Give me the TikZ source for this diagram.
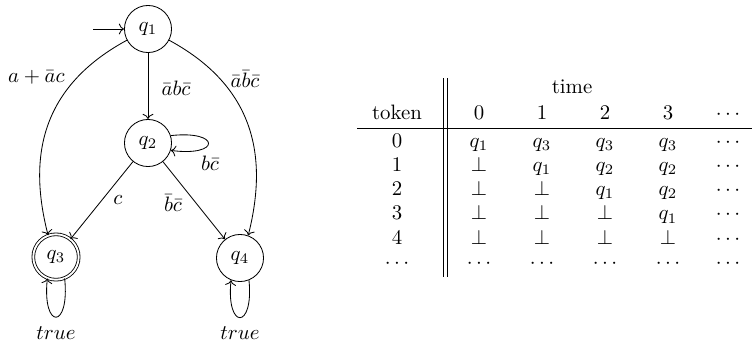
\documentclass[tikz,border=0pt]{standalone}
\usetikzlibrary{arrows.meta}
\begin{document}
\begin{tikzpicture}[x=0.48pt,y=-0.48pt,
  state/.style={circle,draw,minimum size=22.6pt,inner sep=0pt},
  accept/.style={circle,draw,double,double distance=0.9pt,minimum size=21.8pt,inner sep=0pt},
  edge/.style={->},
  lbl/.style={inner sep=0pt},
  cell/.style={anchor=base,inner sep=0pt}]
\useasboundingbox (0,0) rectangle (752,346);
% states
\node[state]  (q1) at (148,29)  {$q_1$};
\node[state]  (q2) at (148,143) {$q_2$};
\node[accept] (q3) at (56,257)  {$q_3$};
\node[state]  (q4) at (240,258) {$q_4$};
\coordinate (init) at (93,29);
% edges
\draw[edge] (init) -- (q1);
\draw[edge] (q1) -- (q2);
\draw[edge] (q1.208) .. controls (35,90) and (30,165) .. (q3.110);
\draw[edge] (q1.332) .. controls (261,90) and (266,165) .. (q4.70);
\draw[edge] (q2) -- (q3);
\draw[edge] (q2) -- (q4);
\draw[edge] (q2.18) .. controls (221,130) and (221,157) .. (q2.-18);
\draw[edge] (q3.-68) .. controls (70,330) and (42,330) .. (q3.-112);
\draw[edge] (q4.-68) .. controls (254,330) and (226,330) .. (q4.-112);
% labels
\node[lbl] (l13) at (36.5,77) {$a+\bar{a}c$};
\node[lbl] (l12) at (176,88) {$\bar{a}b\bar{c}$};
\node[lbl] (l14) at (245,79) {$\bar{a}\bar{b}\bar{c}$};
\node[lbl] (l22) at (210,163) {$b\bar{c}$};
\node[lbl] (l23) at (118,200) {$c$};
\node[lbl] (l24) at (173,203) {$\bar{b}\bar{c}$};
\node[lbl] (t3) at (56,333) {$true$};
\node[lbl] (t4) at (240,333) {$true$};
% table
\draw (357,128) -- (752,128);
\draw (443,78) -- (443,277);
\draw (447,78) -- (447,277);
\node[cell] (time) at (572,93.3) {time};
\node[cell] (token) at (397,119.3) {token};
\node[cell] (h0) at (479,119.3) {0};
\node[cell] (h1) at (542,119.3) {1};
\node[cell] (h2) at (605,119.3) {2};
\node[cell] (h3) at (668,119.3) {3};
\node[cell] (h4) at (728,119.3) {$\cdots$};
\foreach \yy/\k/\a/\b/\c/\d [count=\i] in
  {147.3/0/q_1/q_3/q_3/q_3,
   171.5/1/\bot/q_1/q_2/q_2,
   195.7/2/\bot/\bot/q_1/q_2,
   219.9/3/\bot/\bot/\bot/q_1,
   244.1/4/\bot/\bot/\bot/\bot,
   268.3/\cdots/\cdots/\cdots/\cdots/\cdots}{
  \node[cell] (k\i) at (397,\yy) {$\k$};
  \node[cell] (a\i) at (479,\yy) {$\a$};
  \node[cell] (b\i) at (542,\yy) {$\b$};
  \node[cell] (c\i) at (605,\yy) {$\c$};
  \node[cell] (d\i) at (668,\yy) {$\d$};
  \node[cell] (e\i) at (728,\yy) {$\cdots$};
}
\end{tikzpicture}
\end{document}
